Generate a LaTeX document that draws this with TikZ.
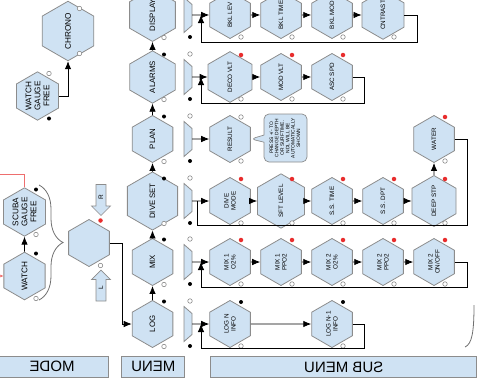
\documentclass[tikz,border=0pt]{standalone}
\usepackage{fontspec}
\setmainfont{Liberation Sans}
\usetikzlibrary{shapes.geometric,shapes.arrows,shapes.callouts,arrows.meta,decorations.pathreplacing}
\definecolor{hexblue}{RGB}{207,226,243}
\definecolor{hexgray}{RGB}{140,140,140}
\definecolor{dotred}{RGB}{232,45,45}
\definecolor{redline}{RGB}{238,110,110}

\begin{document}
\begin{tikzpicture}%
[x=1pt,y=-1pt,%
hexa/.style={regular polygon, regular polygon sides=6, rotate=90, draw=hexgray, fill=hexblue, line width=0.8pt, minimum size=47pt, inner sep=0pt, align=center, font=\fontsize{6.3}{7}\selectfont},%
menuhex/.style={hexa, font=\fontsize{7.8}{8.5}\selectfont},%
modehex/.style={hexa, font=\fontsize{8.2}{9}\selectfont},%
dotb/.style={fill, circle, inner sep=0pt, minimum size=4pt},%
doto/.style={draw=hexgray, fill=white, circle, inner sep=0pt, minimum size=4.5pt, line width=0.6pt},%
dotr/.style={fill=dotred, circle, inner sep=0pt, minimum size=4.5pt},%
trap/.style={draw=hexgray, fill=hexblue, line width=0.8pt},%
conn/.style={line width=0.8pt, -{Latex[length=8pt,width=6.5pt]}},%
lin/.style={line width=0.8pt},%
redl/.style={draw=redline, line width=0.8pt},%
brc/.style={draw=hexgray!80!black, line width=0.8pt},%
blockarr/.style={single arrow, draw=hexgray, fill=hexblue, line width=0.7pt, minimum height=31pt, single arrow head extend=4.5pt, single arrow head indent=0pt, inner xsep=1pt, inner ysep=2.4pt, font=\fontsize{6.5}{7}\selectfont},%
bubble/.style={rectangle callout, draw=hexgray, fill=hexblue, line width=0.7pt, rounded corners=5pt, minimum width=43pt, minimum height=48pt, inner sep=0pt, font=\fontsize{4.9}{5.4}\selectfont},%
labelbox/.style={draw=hexgray, fill=hexblue, line width=0.8pt, inner sep=0pt, minimum height=21pt, font=\fontsize{15}{15}\selectfont}]

\useasboundingbox (0,0) rectangle (478,380);

\node[modehex] (chrono) at (68,31) {CHRONO};
\node[modehex] (wgf) at (37.5,96) {WATCH\\GAUGE\\FREE};
\node[modehex] (scuba) at (24.5,212) {SCUBA\\GAUGE\\FREE};
\node[modehex] (watch) at (24.5,276) {WATCH};
\node[hexa] (modesel) at (89,243) {};

\node[blockarr, rotate=-90] (rarr) at (101,197.5) {\rotatebox{180}{R}};
\node[blockarr, rotate=90] (larr) at (101,288) {L};

\node[menuhex] (display) at (152.5,15) {DISPLAY};
\node[menuhex] (alarms) at (152.5,77) {ALARMS};
\node[menuhex] (plan) at (152.5,139) {PLAN};
\node[menuhex] (diveset) at (152.5,201) {DIVE SET};
\node[menuhex] (mix) at (152.5,262) {MIX};
\node[menuhex] (log) at (152.5,324) {LOG};

\node[hexa] (bkllev) at (230,15) {BKL LEV};
\node[hexa] (bkltime) at (281,15) {BKL TIME};
\node[hexa] (bklmod) at (332,15) {BKL MOD};
\node[hexa] (cntrast) at (383,15) {CNTRAST};

\node[hexa] (decovlt) at (230,77) {DECO VLT};
\node[hexa] (modvlt) at (281,77) {MOD VLT};
\node[hexa] (ascspd) at (332,77) {ASC SPD};

\node[hexa] (result) at (230,139) {RESULT};
\node[bubble, callout absolute pointer={(result.south)}] (note) at (285.5,138)
  {\rotatebox{90}{\begin{tabular}{@{}c@{}}PRESS +/- TO\\CHANGE DEPTH\\OR SURFTIME.\\NDL WILL BE\\AUTOMATICALLY\\SHOWN\end{tabular}}};

\node[hexa] (divemode) at (230,201) {DIVE\\MODE};
\node[hexa] (sftlevel) at (281,201) {SFT LEVEL};
\node[hexa] (sstime) at (332,201) {S.S. TIME};
\node[hexa] (ssdpt) at (383,201) {S.S. DPT};
\node[hexa] (deepstp) at (434,201) {DEEP STP};
\node[hexa] (water) at (434,139) {WATER};

\node[hexa] (mix1o2) at (230,262) {MIX 1\\O2\%};
\node[hexa] (mix1ppo2) at (281,262) {MIX 1\\PPO2};
\node[hexa] (mix2o2) at (332,262) {MIX 2\\O2\%};
\node[hexa] (mix2ppo2) at (383,262) {MIX 2\\PPO2};
\node[hexa] (mix2onoff) at (434,262) {MIX 2\\ON/OFF};

\node[hexa] (logn) at (230,324) {LOG N\\INFO};
\node[hexa] (lognm) at (332,324) {LOG N-1\\INFO};

\foreach \y [count=\i] in {15,77,139,201,262,324} {
  \draw[trap] (184,\y-17.5) -- (192,\y-10.5) -- (192,\y+10.5) -- (184,\y+17.5) -- cycle;
  \coordinate (t\i) at (192,\y);
  \node[doto] at (190,\y-23) {};
  \node[dotb] at (190,\y+22) {};
}
\coordinate (j1) at (201,15);
\coordinate (j2) at (201,77);
\coordinate (j4) at (197.7,201);
\coordinate (j5) at (201,262);
\coordinate (j6) at (201,324);

\foreach \n in {display,alarms,plan,diveset,mix,log,scuba,watch} {
  \node[dotb] at ([shift={(11.5,-22.5)}]\n.center) {};
  \node[doto] at ([shift={(11.5,22.5)}]\n.center) {};
}
\node[doto] at ([shift={(11.5,-22.5)}]chrono.center) {};
\node[doto] at ([shift={(11.5,22.5)}]chrono.center) {};
\node[doto] at ([shift={(11.5,-22.5)}]wgf.center) {};
\node[dotb] at ([shift={(11.5,22.5)}]wgf.center) {};
\node[dotr] at ([shift={(11.5,-22.5)}]modesel.center) {};
\node[doto] at ([shift={(11.5,22.5)}]modesel.center) {};

\foreach \n in {bkllev,bkltime,bklmod,cntrast,decovlt,modvlt,ascspd,result,divemode,sftlevel,sstime,ssdpt,deepstp,water,mix1o2,mix1ppo2,mix2o2,mix2ppo2,mix2onoff,logn,lognm}
  \node[doto] at ([shift={(11,22)}]\n.center) {};
\foreach \n in {decovlt,modvlt,ascspd,divemode,sftlevel,sstime,ssdpt,deepstp,water,mix1o2,mix1ppo2,mix2o2,mix2ppo2,mix2onoff}
  \node[dotr] at ([shift={(11,-22)}]\n.center) {};
\node[doto] at ([shift={(11,-22)}]result.center) {};
\node[dotb] at ([shift={(11,-22)}]logn.center) {};
\node[dotb] at ([shift={(11,-22)}]lognm.center) {};

\draw[conn] (wgf.south) -| (chrono.west);
\draw[conn] (watch.east) -- (scuba.west);
\coordinate (redend) at (0,174);
\draw[redl] (scuba.east) |- (redend);
\coordinate (redin) at (-3,276);
\draw[redl, -{Latex[length=3pt,width=3pt]}] (redin) -- (watch.north);
\draw[conn] (modesel.south) -- ++(13,0) |- (log.north);

\foreach \a/\b in {log/mix,mix/diveset,diveset/plan,plan/alarms,alarms/display}
  \draw[conn] (\a.east) -- (\b.west);

\foreach \a/\b in {t1/bkllev,t2/decovlt,t3/result,t4/divemode,t5/mix1o2,t6/logn}
  \draw[conn] (\a) -- (\b.north);
\foreach \a/\b in {bkllev/bkltime,bkltime/bklmod,bklmod/cntrast,decovlt/modvlt,modvlt/ascspd,divemode/sftlevel,sftlevel/sstime,sstime/ssdpt,ssdpt/deepstp,mix1o2/mix1ppo2,mix1ppo2/mix2o2,mix2o2/mix2ppo2,mix2ppo2/mix2onoff,logn/lognm}
  \draw[conn] (\a.south) -- (\b.north);
\draw[conn] (deepstp.east) -- (water.west);

\draw[conn] (cntrast.south) -| ++(13,27) -| (j1);
\draw[conn] (ascspd.south) -| ++(12,26) -| (j2);
\draw[lin] (water.south) -| ++(13,86.5) -| (j4);
\draw[conn] (mix2onoff.south) -| ++(13,25.5) -| (j5);
\draw[conn] (lognm.south) -| ++(12,24.5) -| (j6);

\coordinate (bra) at (39,185);
\coordinate (brb) at (39,300);
\draw[brc, decorate, decoration={brace, amplitude=24pt}] (bra) -- (brb);
\draw[brc] (474,305) .. controls (474,332) and (472,344) .. (465,347);

\node[labelbox, minimum width=112pt] (modelab) at (52,366.5) {\reflectbox{MODE}};
\node[labelbox, minimum width=63pt] (menulab) at (153.3,366.5) {\reflectbox{MENU}};
\node[labelbox, minimum width=266pt] (sublab) at (343.7,367) {\reflectbox{SUB MENU}};
\end{tikzpicture}
\end{document}
